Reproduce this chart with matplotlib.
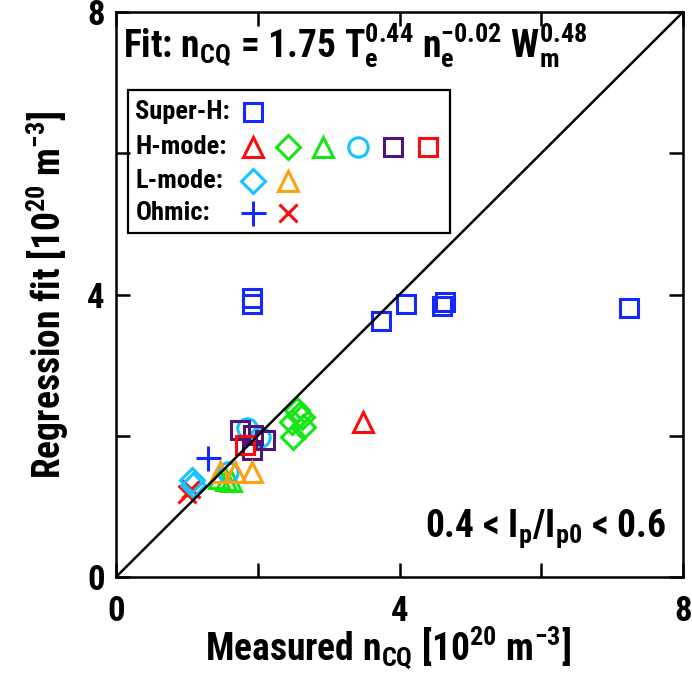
import matplotlib
matplotlib.use("Agg")
import matplotlib.pyplot as plt
from matplotlib import font_manager
from matplotlib.patches import Rectangle

# pick a narrow bold sans if one is available
names = {f.name for f in font_manager.fontManager.ttflist}
font = "DejaVu Sans"
for cand in ["Liberation Sans Narrow", "Arial Narrow", "Roboto Condensed", "Liberation Sans"]:
    if cand in names:
        font = cand
        break

plt.rcParams["font.family"] = [font, "DejaVu Sans"]
plt.rcParams["font.weight"] = "bold"
plt.rcParams["axes.labelweight"] = "bold"
plt.rcParams["mathtext.default"] = "regular"

# Super-H
superh_x = [1.92, 1.92, 3.74, 4.09, 4.60, 4.64, 7.24]
superh_y = [3.95, 3.86, 3.63, 3.87, 3.84, 3.90, 3.81]

# H-mode groups
h_red_tri_x = [3.48]
h_red_tri_y = [2.20]
h_green_dia_x = [2.55, 2.62, 2.48, 2.64, 2.50, 2.58]
h_green_dia_y = [2.37, 2.27, 2.20, 2.13, 1.98, 2.30]
h_green_tri_x = [1.45, 1.62, 1.55]
h_green_tri_y = [1.40, 1.36, 1.38]
h_cyan_circ_x = [1.85, 2.03, 1.58]
h_cyan_circ_y = [2.11, 1.98, 1.49]
h_purple_sq_x = [1.75, 1.93, 2.10, 1.92]
h_purple_sq_y = [2.08, 2.01, 1.94, 1.80]
h_red_sq_x = [1.82]
h_red_sq_y = [1.87]

# L-mode groups
l_cyan_dia_x = [1.07, 1.09]
l_cyan_dia_y = [1.37, 1.30]
l_orange_tri_x = [1.47, 1.68, 1.92]
l_orange_tri_y = [1.49, 1.49, 1.49]

# Ohmic groups
o_blue_plus_x = [1.30]
o_blue_plus_y = [1.69]
o_red_x_x = [1.00, 1.06]
o_red_x_y = [1.17, 1.24]

BLUE = "#1428ff"
RED = "#ff0a0a"
GREEN = "#14e614"
CYAN = "#14c3ff"
PURPLE = "#501478"
ORANGE = "#ffa014"

styles = {
    "sq_blue": dict(marker="s", color=BLUE, ms=12.5),
    "tri_red": dict(marker="^", color=RED, ms=15),
    "dia_green": dict(marker="D", color=GREEN, ms=12),
    "tri_green": dict(marker="^", color=GREEN, ms=15),
    "circ_cyan": dict(marker="o", color=CYAN, ms=14),
    "sq_purple": dict(marker="s", color=PURPLE, ms=12.5),
    "sq_red": dict(marker="s", color=RED, ms=12.5),
    "dia_cyan": dict(marker="D", color=CYAN, ms=12),
    "tri_orange": dict(marker="^", color=ORANGE, ms=15),
    "plus_blue": dict(marker="+", color=BLUE, ms=18),
    "x_red": dict(marker="x", color=RED, ms=13),
}


def mark(ax, x, y, key, **kw):
    st = styles[key]
    ax.plot(x, y, ls="none", marker=st["marker"], ms=st["ms"], mfc="none",
            mec=st["color"], mew=2.2, **kw)


fig = plt.figure(figsize=(6.92, 6.76), dpi=100)
ax = fig.add_axes([116 / 692, 1 - 577 / 676, 567 / 692, 565 / 676])

mark(ax, superh_x, superh_y, "sq_blue")
mark(ax, o_red_x_x, o_red_x_y, "x_red")
mark(ax, o_blue_plus_x, o_blue_plus_y, "plus_blue")
mark(ax, h_red_tri_x, h_red_tri_y, "tri_red")
mark(ax, h_green_dia_x, h_green_dia_y, "dia_green")
mark(ax, h_green_tri_x, h_green_tri_y, "tri_green")
mark(ax, h_cyan_circ_x, h_cyan_circ_y, "circ_cyan")
mark(ax, h_purple_sq_x, h_purple_sq_y, "sq_purple")
mark(ax, h_red_sq_x, h_red_sq_y, "sq_red")
mark(ax, l_cyan_dia_x, l_cyan_dia_y, "dia_cyan")
mark(ax, l_orange_tri_x, l_orange_tri_y, "tri_orange")

ax.plot([0, 8], [0, 8], color="black", lw=1.8)

ax.set_xlim(0, 8)
ax.set_ylim(0, 8)
ax.set_xticks([0, 4, 8])
ax.set_yticks([0, 4, 8])
ax.set_xticks([2, 6], minor=True)
ax.set_yticks([2, 6], minor=True)
ax.tick_params(which="both", direction="in", top=True, right=True, width=1.8)
ax.tick_params(which="major", length=10, labelsize=25, pad=8)
ax.tick_params(which="minor", length=10)
ax.tick_params(axis="x", which="major", pad=13)
for s in ax.spines.values():
    s.set_linewidth(1.8)

ax.set_xlabel(r"Measured $n_{CQ}$ [$10^{20}$ $m^{-3}$]", fontsize=27)
ax.set_ylabel(r"Regression fit [$10^{20}$ $m^{-3}$]", fontsize=27)
ax.xaxis.set_label_coords(0.48, -0.085, transform=ax.transAxes)
ax.xaxis.label.set_va("top")
ax.yaxis.set_label_coords(-0.08, 0.5, transform=ax.transAxes)

ax.text(0.012, 0.919, r"Fit: $n_{CQ}$ = 1.75 $T_e^{0.44}$ $n_e^{-0.02}$ $W_m^{0.48}$",
        transform=ax.transAxes, fontsize=27, va="baseline", ha="left")
ax.text(0.545, 0.071, r"0.4 < $I_p$/$I_{p0}$ < 0.6",
        transform=ax.transAxes, fontsize=27, va="baseline", ha="left")

# legend box drawn by hand
ax.add_patch(Rectangle((0.021, 0.609), 0.568, 0.253, transform=ax.transAxes,
                       fill=False, ec="black", lw=1.6, zorder=5))
rows = [
    ("Super-H:", ["sq_blue"]),
    ("H-mode:", ["tri_red", "dia_green", "tri_green", "circ_cyan", "sq_purple", "sq_red"]),
    ("L-mode:", ["dia_cyan", "tri_orange"]),
    ("Ohmic:", ["plus_blue", "x_red"]),
]
row_y = [0.823, 0.761, 0.701, 0.644]
for (label, keys), yy in zip(rows, row_y):
    ax.text(0.034, yy, label, transform=ax.transAxes, fontsize=19,
            va="center", ha="left")
    for i, k in enumerate(keys):
        mark(ax, [0.2416 + i * 0.0617], [yy], k, transform=ax.transAxes,
             clip_on=False)

fig.savefig("out.png", dpi=100)
